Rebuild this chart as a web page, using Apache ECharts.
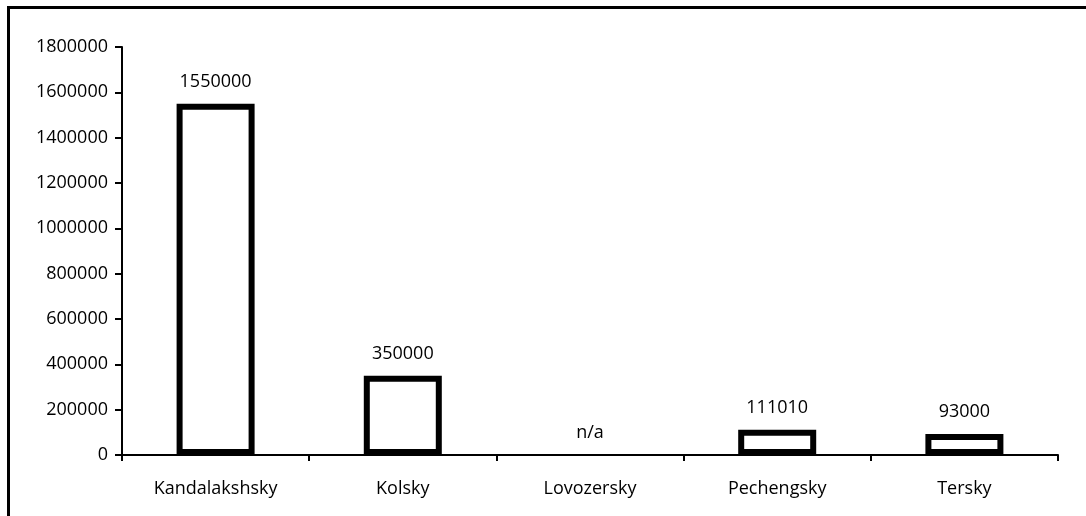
<!DOCTYPE html>
<html>
<head>
<meta charset="utf-8">
<script src="https://cdn.jsdelivr.net/npm/echarts@6/dist/echarts.min.js"></script>
<style>
html,body{margin:0;padding:0;background:#fff;}
#c{width:1086px;height:516px;}
</style>
</head>
<body>
<div id="c"></div>
<script>
var categories = ['Kandalakshsky', 'Kolsky', 'Lovozersky', 'Pechengsky', 'Tersky'];
var values = [1550000, 350000, null, 111010, 93000];
var missingLabel = 'n/a';
var yMin = 0, yMax = 1800000, yInterval = 200000;

var chart = echarts.init(document.getElementById('c'));
var FONT = 'Open Sans';
var seriesData = values.map(function (v) {
  if (v === null) {
    return { value: 0, itemStyle: { borderWidth: 0, color: 'rgba(0,0,0,0)' },
             label: { formatter: missingLabel } };
  }
  return v;
});
chart.setOption({
  animation: false,
  backgroundColor: '#fff',
  grid: { left: 122, right: 28, top: 47, bottom: 61 },
  graphic: [{
    type: 'rect', shape: { x: 8.5, y: 7.5, width: 1100, height: 540 },
    style: { fill: 'none', stroke: '#000', lineWidth: 3 }, silent: true
  }],
  xAxis: {
    type: 'category', data: categories,
    axisLine: { lineStyle: { color: '#000', width: 2 } },
    axisTick: { show: true, length: 6, lineStyle: { color: '#000', width: 2 } },
    axisLabel: { color: '#000', fontFamily: FONT, fontSize: 18, margin: 25 }
  },
  yAxis: {
    type: 'value', min: yMin, max: yMax, interval: yInterval,
    splitLine: { show: false },
    axisLine: { show: true, lineStyle: { color: '#000', width: 2 } },
    axisTick: { show: true, length: 7, lineStyle: { color: '#000', width: 2 } },
    axisLabel: { color: '#000', fontFamily: FONT, fontSize: 18, margin: 14,
                 formatter: function (v) { return String(v); } }
  },
  series: [{
    type: 'bar', data: seriesData, barWidth: 78,
    itemStyle: { color: '#fff', borderColor: '#000', borderWidth: 6 },
    label: { show: true, position: 'top', distance: 13, color: '#000',
             fontFamily: FONT, fontSize: 18 }
  }]
});
</script>
</body>
</html>
